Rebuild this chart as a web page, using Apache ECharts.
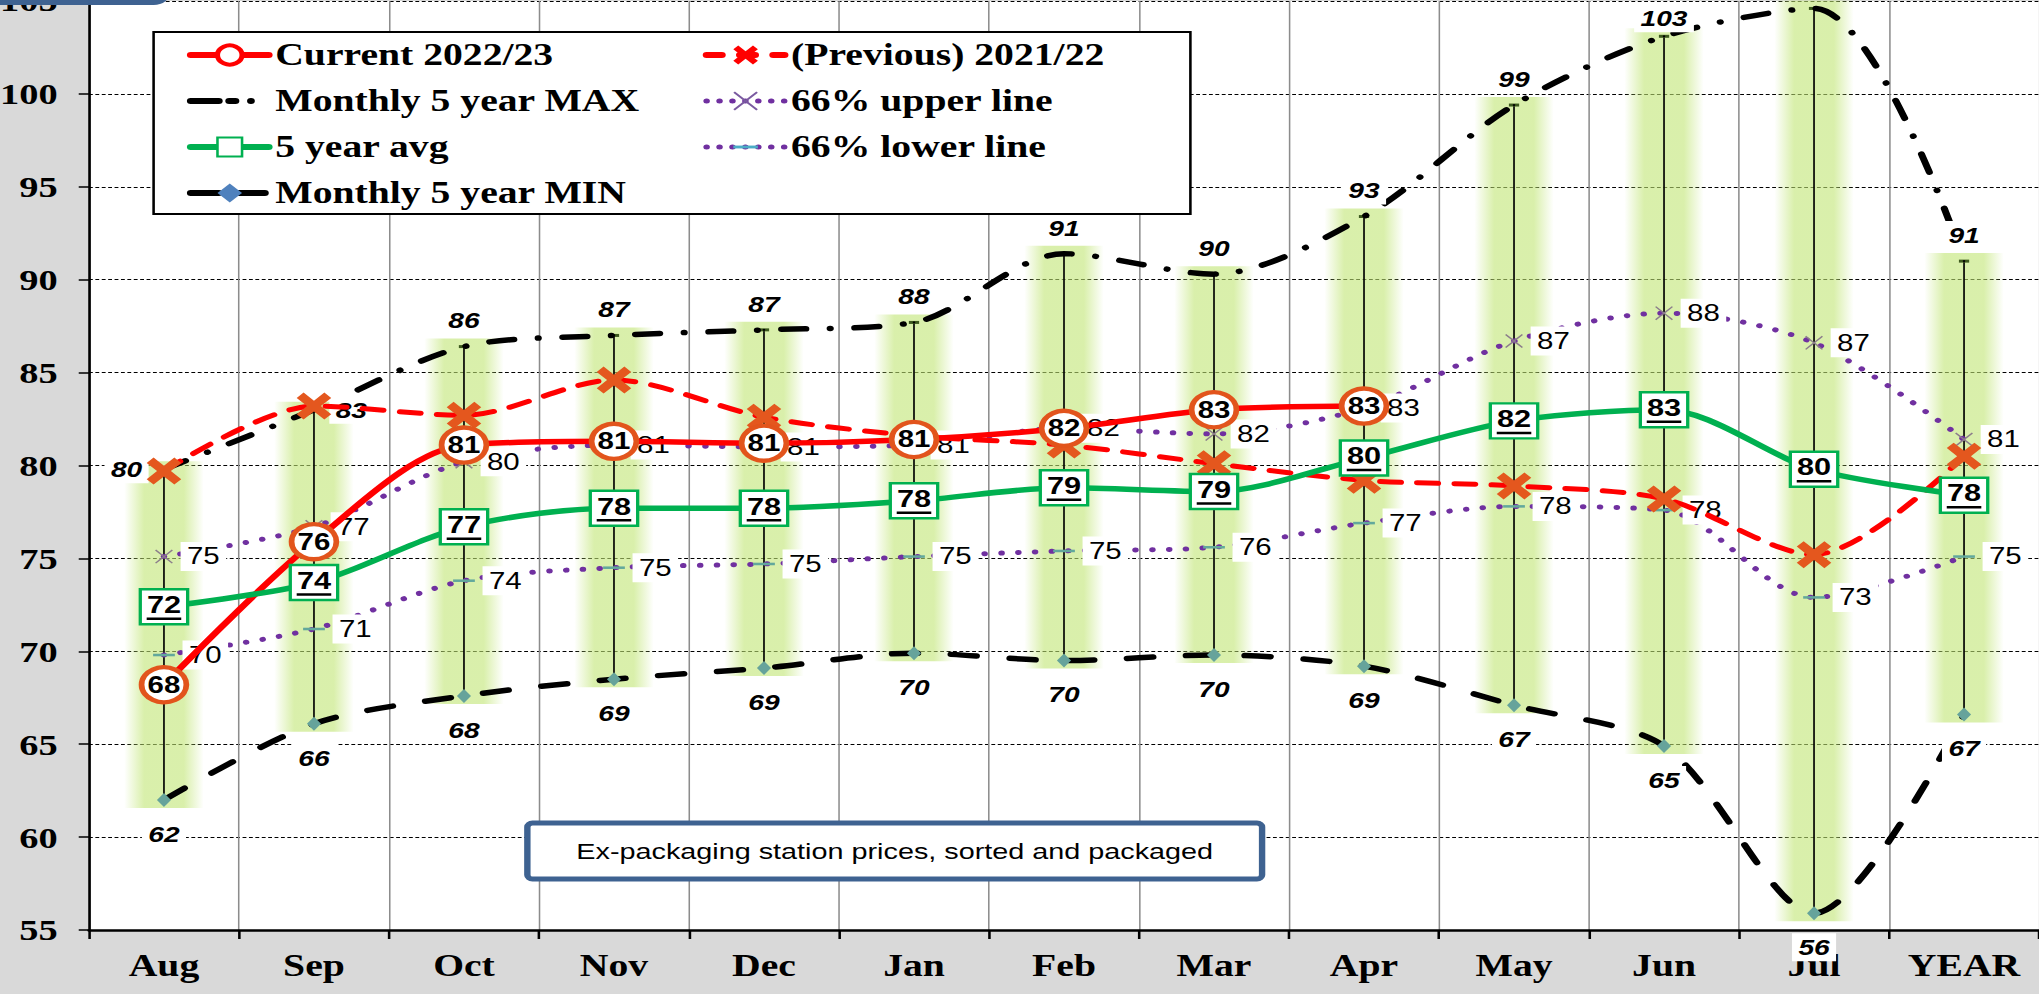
<!DOCTYPE html>
<html>
<head>
<meta charset="utf-8">
<script src="https://cdn.jsdelivr.net/npm/echarts/dist/echarts.min.js"></script>
<style>
html,body{margin:0;padding:0;background:#d9d9d9;overflow:hidden;width:2039px;height:994px;}
#c{width:1593px;height:994px;transform:scaleX(1.28);transform-origin:0 0;}
</style>
</head>
<body>
<div id="c"></div>
<script>
// ---- data ----
const categories = ['Aug','Sep','Oct','Nov','Dec','Jan','Feb','Mar','Apr','May','Jun','Jul','YEAR'];
const yAxisMin = 55, yAxisMax = 105, yAxisStep = 5;
const current2223 = [68.2, 75.9, 81.1, 81.3, 81.2, 81.4, 82.0, 83.0, 83.2, null, null, null, null];
const previous2122 = [79.7, 83.2, 82.7, 84.6, 82.6, 81.6, 81.1, 80.1, 79.2, 78.9, 78.2, 75.2, 80.5];
const max5y = [79.8, 83.0, 86.4, 87.0, 87.3, 87.7, 91.4, 90.3, 93.4, 99.4, 103.1, 104.6, 91.0];
const min5y = [62.0, 66.1, 67.6, 68.5, 69.1, 69.9, 69.5, 69.8, 69.2, 67.1, 64.9, 55.9, 66.6];
const avg5y = [72.4, 73.7, 76.7, 77.7, 77.7, 78.1, 78.8, 78.6, 80.4, 82.4, 83.0, 79.8, 78.4];
const upper66 = [75.1, 76.7, 80.2, 81.1, 81.0, 81.1, 82.0, 81.7, 83.1, 86.7, 88.2, 86.6, 81.4];
const lower66 = [69.8, 71.2, 73.8, 74.5, 74.7, 75.1, 75.4, 75.6, 76.9, 77.8, 77.6, 72.9, 75.1];
const noteText = 'Ex-packaging station prices, sorted and packaged';

// ---- styling ----
const SANS = 'Liberation Sans, Arial, sans-serif';
const SERIF = 'Liberation Serif, Times New Roman, serif';
const XBOLD = 'path://M4,0 L10,6 L16,0 L20,4 L14,10 L20,16 L16,20 L10,14 L4,20 L0,16 L6,10 L0,4 Z';
const XTHIN = 'path://M1.3,0 L10,8.7 L18.7,0 L20,1.3 L11.3,10 L20,18.7 L18.7,20 L10,11.3 L1.3,20 L0,18.7 L8.7,10 L0,1.3 Z';
const DASH = 'path://M0,0 M20,20 M0,8.5 L20,8.5 L20,11.5 L0,11.5 Z';
const MAXDASH = [19, 19, 0.1, 19];
const MINDASH = [20, 26];
const PREVDASH = [16, 13];
const DOTS = [0.1, 13];
const rnd = p => String(Math.round(Array.isArray(p.value) ? p.value[1] : p.value));
const boxLabel = (extra) => Object.assign({
  show: true, formatter: rnd, fontFamily: SANS, fontSize: 23, color: '#000',
  backgroundColor: '#fff', padding: [3, 5]
}, extra);

const chart = echarts.init(document.getElementById('c'), null, {renderer: 'svg'});

const legendText = {fontFamily: SERIF, fontWeight: 'bold', fontSize: 31, color: '#000', lineHeight: 34};

const option = {
  animation: false,
  backgroundColor: '#d9d9d9',
  grid: {left: 69.5, right: 0, top: 1, bottom: 64, show: true, backgroundColor: '#fff', borderWidth: 0,
         containLabel: false, outerBoundsMode: 'none'},
  xAxis: {
    type: 'category', data: categories, boundaryGap: true,
    axisLine: {lineStyle: {color: '#000', width: 2.5}},
    axisTick: {show: true, interval: 0, length: 9, lineStyle: {color: '#000', width: 2}},
    axisLabel: {interval: 0, margin: 20, fontFamily: SERIF, fontWeight: 'bold', fontSize: 31, color: '#000'},
    splitLine: {show: true, interval: 0, lineStyle: {color: '#8c8c8c', width: 1.2}}
  },
  yAxis: {
    type: 'value', min: yAxisMin, max: yAxisMax, interval: yAxisStep,
    axisLine: {show: true, lineStyle: {color: '#000', width: 2}},
    axisTick: {show: true, length: 8, lineStyle: {color: '#000', width: 1.5}},
    axisLabel: {margin: 24.5, fontFamily: SERIF, fontWeight: 'bold', fontSize: 30, color: '#000'},
    splitLine: {show: true, lineStyle: {color: '#000', width: 1, type: [3, 2]}}
  },
  legend: [
    {
      left: 146, top: 38, orient: 'vertical', padding: 0, itemGap: 12, itemWidth: 61, itemHeight: 24,
      selectedMode: false, z: 12, textStyle: legendText,
      data: [
        {name: 'Current 2022/23', itemStyle: {color: '#fff', borderColor: '#ff0000', borderWidth: 4},
         lineStyle: {color: '#ff0000', width: 6, cap: 'round'}},
        {name: 'Monthly 5 year MAX', itemStyle: {opacity: 0},
         lineStyle: {color: '#000', width: 6, type: [22, 8, 5, 12, 0.1, 30], cap: 'round'}},
        {name: '5 year avg', lineStyle: {color: '#00b050', width: 6, cap: 'round'}},
        {name: 'Monthly 5 year MIN', itemStyle: {color: '#4f81bd'},
         lineStyle: {color: '#000', width: 6, type: [22, 14], cap: 'round'}}
      ]
    },
    {
      left: 549, top: 38, orient: 'vertical', padding: 0, itemGap: 12, itemWidth: 61, itemHeight: 24,
      selectedMode: false, z: 12, textStyle: legendText,
      data: [
        {name: '(Previous) 2021/22', itemStyle: {color: '#ff0000'},
         lineStyle: {color: '#ff0000', width: 6, type: [12, 14], cap: 'round'}},
        {name: '66% upper line', itemStyle: {color: '#7a5aa0'},
         lineStyle: {color: '#7030a0', width: 5, type: [0.1, 10], cap: 'round'}},
        {name: '66% lower line', itemStyle: {color: '#4bacc6'},
         lineStyle: {color: '#7030a0', width: 5, type: [0.1, 10], cap: 'round'}}
      ]
    }
  ],
  graphic: [
    {type: 'rect', z: 10, shape: {x: 120, y: 32, width: 810, height: 182},
     style: {fill: '#fff', stroke: '#000', lineWidth: 2}},
    {type: 'rect', z: 10, shape: {x: -20, y: -60, width: 150, height: 62, r: 10},
     style: {fill: '#d9d9d9', stroke: '#3e6291', lineWidth: 6}},
    {type: 'group', z: 10, children: [
      {type: 'rect', z: 10, shape: {x: 412, y: 823, width: 574, height: 56, r: 4},
       style: {fill: '#fff', stroke: '#3e6291', lineWidth: 5}},
      {type: 'text', z: 11, x: 699, y: 851,
       style: {text: noteText, fill: '#000', font: '22.5px ' + SANS, textAlign: 'center', textVerticalAlign: 'middle'}}
    ]}
  ],
  series: [
    {
      type: 'custom', name: 'highlow', z: 1, silent: true,
      data: categories.map((c, i) => [i, min5y[i], max5y[i]]),
      encode: {x: 0, y: [1, 2]},
      renderItem: function (params, api) {
        const x = api.coord([api.value(0), 0])[0];
        const yTop = api.coord([api.value(0), api.value(2)])[1];
        const yBot = api.coord([api.value(0), api.value(1)])[1];
        const w = 62;
        const c = 'rgba(192,229,115,';
        return {
          type: 'group', children: [
            {type: 'rect', shape: {x: x - w / 2, y: yTop - 8, width: w, height: yBot - yTop + 16},
             style: {fill: new echarts.graphic.LinearGradient(0, 0, 1, 0, [
               {offset: 0, color: c + '0)'}, {offset: 0.25, color: c + '0.6)'},
               {offset: 0.75, color: c + '0.6)'}, {offset: 1, color: c + '0)'}])}},
            {type: 'line', shape: {x1: x, y1: yTop, x2: x, y2: yBot}, style: {stroke: '#000', lineWidth: 1.3}},
            {type: 'line', shape: {x1: x - 4, y1: yTop, x2: x + 4, y2: yTop}, style: {stroke: '#3d5a1e', lineWidth: 3}}
          ]
        };
      }
    },
    {
      name: 'Monthly 5 year MIN', type: 'line', data: min5y, smooth: 0.3, z: 2,
      symbol: 'diamond', symbolSize: [11, 14], itemStyle: {color: '#66a39b'},
      lineStyle: {color: '#000', width: 5.5, type: MINDASH, cap: 'round'},
      label: boxLabel({position: 'bottom', distance: 13, fontStyle: 'italic', fontWeight: 'bold', fontSize: 22})
    },
    {
      name: 'Monthly 5 year MAX', type: 'line', smooth: 0.3, z: 2,
      data: max5y.map((v, i) => ({value: v, label: {
        position: i === 0 ? 'left' : (i === 1 ? 'right' : 'top'),
        distance: i === 10 ? 3 : 11}})),
      symbol: 'circle', symbolSize: 2, itemStyle: {color: '#000'},
      lineStyle: {color: '#000', width: 5.5, type: MAXDASH, cap: 'round'},
      label: boxLabel({position: 'top', distance: 11, fontStyle: 'italic', fontWeight: 'bold', fontSize: 22})
    },
    {
      name: '66% lower line', type: 'line', data: lower66, smooth: 0.3, z: 2,
      symbol: DASH, symbolSize: 17, itemStyle: {color: '#62a89c'},
      lineStyle: {color: '#7030a0', width: 5, type: DOTS, cap: 'round'},
      label: boxLabel({position: 'right', distance: 6})
    },
    {
      name: '66% upper line', type: 'line', data: upper66, smooth: 0.3, z: 2,
      symbol: XTHIN, symbolSize: 14, itemStyle: {color: '#8b7d8b'},
      lineStyle: {color: '#7030a0', width: 5, type: DOTS, cap: 'round'},
      label: boxLabel({position: 'right', distance: 6})
    },
    {
      name: '(Previous) 2021/22', type: 'line', data: previous2122, smooth: 0.3, z: 3,
      symbol: XBOLD, symbolSize: 27, itemStyle: {color: '#e4571e'},
      lineStyle: {color: '#ff0000', width: 5, type: PREVDASH, cap: 'round'},
      label: {show: false}
    },
    {
      name: 'Current 2022/23', type: 'line', data: current2223, smooth: 0.3, z: 4,
      symbol: 'circle', symbolSize: 35,
      itemStyle: {color: '#fff', borderColor: '#e2541c', borderWidth: 4.5},
      lineStyle: {color: '#ff0000', width: 5.5},
      label: {show: true, position: 'inside', formatter: rnd, fontFamily: SANS, fontWeight: 'bold', fontSize: 23, color: '#000'}
    },
    {
      name: '5 year avg', type: 'line', data: avg5y, smooth: 0.3, z: 5,
      symbol: 'rect', symbolSize: [37, 35],
      itemStyle: {color: '#fff', borderColor: '#00b050', borderWidth: 2.5},
      lineStyle: {color: '#00b050', width: 5.5},
      label: {
        show: true, position: 'inside',
        formatter: p => '{a|' + rnd(p) + '}\n{u| }',
        rich: {
          a: {fontFamily: SANS, fontWeight: 'bold', fontSize: 24, color: '#000', lineHeight: 24, align: 'center'},
          u: {width: 27, height: 2.5, backgroundColor: '#000', lineHeight: 4, fontSize: 2, align: 'center'}
        }
      }
    }
  ]
};
chart.setOption(option);
</script>
</body>
</html>
